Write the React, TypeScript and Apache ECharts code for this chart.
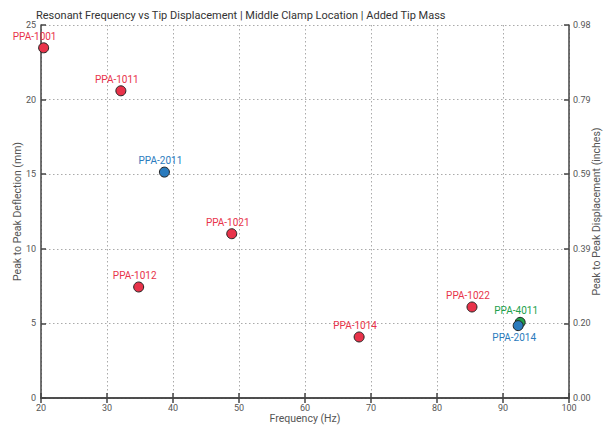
import React, { useEffect, useRef } from "react";
import * as echarts from "echarts";

const names = ["PPA-1001", "PPA-1011", "PPA-2011", "PPA-1021", "PPA-1012", "PPA-1014", "PPA-1022", "PPA-4011", "PPA-2014"];
const frequencies = [20.4, 32.1, 38.7, 48.9, 34.8, 68.2, 85.3, 92.6, 92.3];
const deflections = [23.47, 20.59, 15.14, 11.01, 7.44, 4.09, 6.1, 5.07, 4.85];
const families = ["1", "1", "2", "1", "1", "1", "1", "4", "2"];
const labelBelow = ["PPA-2014"];

const xTicks = [20, 30, 40, 50, 60, 70, 80, 90, 100];
const yTicks = [0, 5, 10, 15, 20, 25];

const FONT = "Roboto, 'Liberation Sans', sans-serif";
const familyColors: Record<string, string> = { "1": "#e8334a", "2": "#2b7bbd", "4": "#22a04b" };

export default function App() {
  const ref = useRef<HTMLDivElement>(null);
  useEffect(() => {
    if (!ref.current) return;
    const chart = echarts.init(ref.current, undefined, { renderer: "svg" });
    const data = names.map((n, i) => {
      const c = familyColors[families[i]];
      const below = labelBelow.includes(n);
      return {
        name: n,
        value: [frequencies[i], deflections[i]],
        itemStyle: { color: c },
        label: {
          show: true,
          formatter: n,
          position: below ? "bottom" : "top",
          distance: 1,
          offset: [n === "PPA-1001" ? -9 : -4, 0],
          color: c,
        },
      };
    });
    const axisLine = { show: true, lineStyle: { color: "#444", width: 1.5 } };
    const splitLine = { show: true, lineStyle: { color: "#aaa", type: [1.5, 2.5] as any, width: 1 } };
    const axisLabel = { color: "#555", fontSize: 9, fontFamily: FONT };
    const axisTick = { show: true, inside: true, length: 5, lineStyle: { color: "#444", width: 1.5 } };
    const nameStyle = { color: "#555", fontSize: 10.5, fontFamily: FONT };
    chart.setOption({
      animation: false,
      title: {
        text: "Resonant Frequency vs Tip Displacement | Middle Clamp Location | Added Tip Mass",
        left: 31,
        top: 5,
        textStyle: { fontFamily: FONT, fontSize: 11, fontWeight: "normal", color: "#333" },
      },
      grid: { left: 41, right: 42, top: 25, bottom: 33, outerBoundsMode: "none" } as any,
      xAxis: [
        {
          type: "value",
          min: xTicks[0],
          max: xTicks[xTicks.length - 1],
          interval: 10,
          name: "Frequency (Hz)",
          nameLocation: "middle",
          nameGap: 15,
          nameMoveOverlap: false,
          nameTextStyle: nameStyle,
          axisLine,
          axisTick,
          axisLabel: { ...axisLabel, margin: 5 },
          splitLine,
        },
        {
          type: "value",
          position: "top",
          min: xTicks[0],
          max: xTicks[xTicks.length - 1],
          interval: 10,
          axisLine,
          axisTick,
          axisLabel: { show: false },
          splitLine: { show: false },
        },
      ],
      yAxis: [
        {
          type: "value",
          min: yTicks[0],
          max: yTicks[yTicks.length - 1],
          interval: 5,
          name: "Peak to Peak Deflection (mm)",
          nameLocation: "middle",
          nameRotate: 90,
          nameGap: 18,
          nameMoveOverlap: false,
          nameTextStyle: nameStyle,
          axisLine,
          axisTick,
          axisLabel: { ...axisLabel, margin: 5 },
          splitLine,
        },
        {
          type: "value",
          position: "right",
          min: yTicks[0],
          max: yTicks[yTicks.length - 1],
          interval: 5,
          name: "Peak to Peak Displacement (inches)",
          nameLocation: "middle",
          nameRotate: 90,
          nameGap: 22,
          nameMoveOverlap: false,
          nameTextStyle: nameStyle,
          axisLine,
          axisTick,
          axisLabel: { ...axisLabel, margin: 4, formatter: (v: number) => (v / 25.4).toFixed(2) },
          splitLine: { show: false },
        },
      ],
      series: [
        {
          type: "scatter",
          symbolSize: 10,
          itemStyle: { borderColor: "#222", borderWidth: 1, opacity: 1 },
          label: { fontFamily: FONT, fontSize: 10 },
          data,
        },
      ],
    } as any);
    return () => chart.dispose();
  }, []);
  return <div ref={ref} style={{ width: 611, height: 431, position: "absolute", left: 0, top: 0 }} />;
}
